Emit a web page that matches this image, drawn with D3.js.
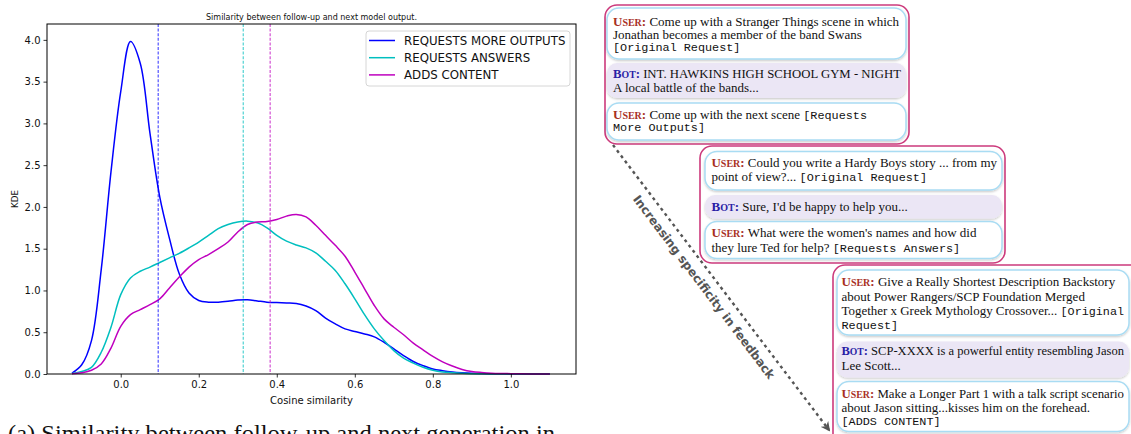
<!DOCTYPE html>
<html>
<head>
<meta charset="utf-8">
<script src="https://cdn.jsdelivr.net/npm/d3@7"></script>
<style>
  body { margin: 0; background: #fff; }
  svg { display: block; }
  text { white-space: pre; }
</style>
</head>
<body>
<div id="chart"></div>
<script>
// KDE curves
const seriesNames = ['REQUESTS MORE OUTPUTS', 'REQUESTS ANSWERS', 'ADDS CONTENT'];
const seriesColors = ['#0000ff', '#00bfbf', '#bf00bf'];
const xGrid = [-0.125, -0.1, -0.075, -0.05, -0.025, 0, 0.025, 0.05, 0.075, 0.1,
  0.125, 0.15, 0.175, 0.2, 0.225, 0.25, 0.275, 0.3, 0.325, 0.35,
  0.375, 0.4, 0.425, 0.45, 0.475, 0.5, 0.525, 0.55, 0.575, 0.6,
  0.625, 0.65, 0.675, 0.7, 0.725, 0.75, 0.775, 0.8, 0.825, 0.85,
  0.875, 0.9, 0.925, 0.95, 0.975, 1.0, 1.025, 1.05, 1.075, 1.1];
const moreOutputs = [0.01, 0.11, 0.40, 1.25, 2.42, 3.38, 3.98, 3.72, 2.88, 2.12,
  1.62, 1.2, 0.97, 0.88, 0.86, 0.86, 0.87, 0.885, 0.89, 0.875,
  0.86, 0.855, 0.85, 0.845, 0.815, 0.76, 0.67, 0.6, 0.54, 0.51,
  0.48, 0.445, 0.38, 0.3, 0.22, 0.15, 0.1, 0.06, 0.04, 0.025,
  0.015, 0.008, 0.005, 0.003, 0.002, 0.001, 0.001, 0, 0, 0];
const requestsAnswers = [0.005, 0.03, 0.08, 0.26, 0.56, 0.95, 1.15, 1.23, 1.28, 1.335,
  1.39, 1.445, 1.51, 1.58, 1.66, 1.74, 1.79, 1.82, 1.83, 1.81,
  1.75, 1.66, 1.59, 1.545, 1.51, 1.45, 1.35, 1.24, 1.08, 0.9,
  0.71, 0.54, 0.4, 0.28, 0.19, 0.13, 0.08, 0.045, 0.025, 0.015,
  0.008, 0.004, 0.002, 0.001, 0.001, 0, 0, 0, 0, 0];
const addsContent = [0.003, 0.015, 0.045, 0.12, 0.31, 0.57, 0.71, 0.77, 0.83, 0.9,
  1.03, 1.16, 1.28, 1.37, 1.43, 1.5, 1.58, 1.7, 1.79, 1.82,
  1.825, 1.85, 1.89, 1.91, 1.88, 1.78, 1.66, 1.54, 1.41, 1.22,
  1.02, 0.82, 0.66, 0.56, 0.47, 0.37, 0.29, 0.21, 0.145, 0.095,
  0.055, 0.03, 0.018, 0.01, 0.006, 0.004, 0.002, 0.001, 0.001, 0];
const seriesMeans = [0.096, 0.314, 0.383];
const xTicks = [0, 0.2, 0.4, 0.6, 0.8, 1.0];
const yTicks = [0, 0.5, 1.0, 1.5, 2.0, 2.5, 3.0, 3.5, 4.0];

// chat examples on the right
const cardTexts = [
  [
    { kind: 'user', lines: [
      [['u', 'USER:'], ['t', ' Come up with a Stranger Things scene in which']],
      [['t', 'Jonathan becomes a member of the band Swans']],
      [['m', '[Original Request]']]] },
    { kind: 'bot', lines: [
      [['b', 'BOT:'], ['t', ' INT. HAWKINS HIGH SCHOOL GYM - NIGHT']],
      [['t', 'A local battle of the bands...']]] },
    { kind: 'user', lines: [
      [['u', 'USER:'], ['t', ' Come up with the next scene '], ['m', '[Requests']],
      [['m', 'More Outputs]']]] }
  ],
  [
    { kind: 'user', lines: [
      [['u', 'USER:'], ['t', ' Could you write a Hardy Boys story ... from my']],
      [['t', 'point of view?... '], ['m', '[Original Request]']]] },
    { kind: 'bot', lines: [
      [['b', 'BOT:'], ['t', " Sure, I'd be happy to help you..."]]] },
    { kind: 'user', lines: [
      [['u', 'USER:'], ['t', " What were the women's names and how did"]],
      [['t', 'they lure Ted for help? '], ['m', '[Requests Answers]']]] }
  ],
  [
    { kind: 'user', lines: [
      [['u', 'USER:'], ['t', ' Give a Really Shortest Description Backstory']],
      [['t', 'about Power Rangers/SCP Foundation Merged']],
      [['t', 'Together x Greek Mythology Crossover... '], ['m', '[Original']],
      [['m', 'Request]']]] },
    { kind: 'bot', lines: [
      [['b', 'BOT:'], ['t', ' SCP-XXXX is a powerful entity resembling Jason']],
      [['t', 'Lee Scott...']]] },
    { kind: 'user', lines: [
      [['u', 'USER:'], ['t', ' Make a Longer Part 1 with a talk script scenario']],
      [['t', 'about Jason sitting...kisses him on the forehead.']],
      [['m', '[ADDS CONTENT]']]] }
  ]
];
const arrowLabel = 'Increasing specificity in feedback';
const captionText = '(a) Similarity between follow-up and next generation in';

// layout of the cards (outer box, bubble boxes, text baselines)
const cardBoxes = [
  { x: 605, y: 5, w: 304, h: 139, tx: 613,
    bubbles: [[607, 8, 299, 51], [607, 63, 299, 35], [607, 103, 299, 37]],
    baselines: [[26, 38.6, 51.2], [77.6, 92], [118.8, 131.4]] },
  { x: 700, y: 146, w: 305, h: 117, tx: 711.5,
    bubbles: [[705, 151.5, 297, 38.5], [705, 195, 297, 23.5], [705, 221.5, 297, 37]],
    baselines: [[166.6, 181], [210.5], [237.4, 251.8]] },
  { x: 833, y: 265, w: 310, h: 185, tx: 841.5,
    bubbles: [[837, 270, 292, 65], [837, 341.5, 292, 36], [837, 381.5, 292, 50]],
    baselines: [[286, 300.6, 315.2, 328.6], [355.4, 370], [397.6, 412.2, 425.4]] }
];

const W = 1131, H = 434;
const svg = d3.select('#chart').append('svg')
  .attr('width', W).attr('height', H)
  .style('font-family', 'DejaVu Sans, sans-serif');
svg.append('rect').attr('width', W).attr('height', H).attr('fill', '#fff');

const defs = svg.append('defs');
const shadow = defs.append('filter').attr('id', 'shadow')
  .attr('x', '-5%').attr('y', '-20%').attr('width', '110%').attr('height', '150%');
shadow.append('feDropShadow').attr('dx', 0).attr('dy', 1.2).attr('stdDeviation', 1)
  .attr('flood-color', '#000').attr('flood-opacity', 0.22);
defs.append('marker').attr('id', 'arrowhead')
  .attr('viewBox', '0 0 10 10').attr('refX', 8).attr('refY', 5)
  .attr('markerWidth', 4).attr('markerHeight', 4).attr('orient', 'auto')
  .attr('markerUnits', 'strokeWidth')
  .append('path').attr('d', 'M0,0 L10,5 L0,10 L3,5 Z').attr('fill', '#555');

// ---------- KDE plot ----------
const plot = { left: 47, right: 576, top: 24, bottom: 374 };
const x = d3.scaleLinear().domain([-0.189, 1.167]).range([plot.left, plot.right]);
const y = d3.scaleLinear().domain([0, 4.19]).range([plot.bottom, plot.top]);

const series = [moreOutputs, requestsAnswers, addsContent].map((vals, i) => ({
  name: seriesNames[i], color: seriesColors[i], mean: seriesMeans[i],
  points: xGrid.map((xv, j) => ({ x: xv, y: vals[j] }))
}));

const g = svg.append('g');

const line = d3.line()
  .x(d => x(d.x))
  .y(d => y(d.y))
  .curve(d3.curveCatmullRom.alpha(0.5));

g.selectAll('.kde')
    .data(series)
  .enter().append('path')
    .attr('class', 'kde')
    .attr('d', d => line(d.points))
    .attr('fill', 'none')
    .attr('stroke', d => d.color)
    .attr('stroke-width', 1.5);

g.selectAll('.mean')
    .data(series)
  .enter().append('line')
    .attr('class', 'mean')
    .attr('x1', d => x(d.mean)).attr('x2', d => x(d.mean))
    .attr('y1', plot.top).attr('y2', plot.bottom)
    .attr('stroke', d => d.color)
    .attr('stroke-opacity', 0.75)
    .attr('stroke-width', 1.1)
    .attr('stroke-dasharray', '3,1.6');

const xAxis = g.append('g')
  .attr('transform', 'translate(0,' + plot.bottom + ')')
  .call(d3.axisBottom(x).tickValues(xTicks).tickFormat(d3.format('.1f'))
    .tickSizeInner(3.5).tickSizeOuter(0).tickPadding(3));
const yAxis = g.append('g')
  .attr('transform', 'translate(' + plot.left + ',0)')
  .call(d3.axisLeft(y).tickValues(yTicks).tickFormat(d3.format('.1f'))
    .tickSizeInner(3.5).tickSizeOuter(0).tickPadding(3));
[xAxis, yAxis].forEach(a => {
  a.select('.domain').remove();
  a.selectAll('line').attr('stroke', '#000').attr('stroke-width', 0.8);
  a.selectAll('text').attr('fill', '#111')
    .style('font-family', 'DejaVu Sans').style('font-size', '10px');
});

g.append('rect')
  .attr('x', plot.left).attr('y', plot.top)
  .attr('width', plot.right - plot.left).attr('height', plot.bottom - plot.top)
  .attr('fill', 'none').attr('stroke', '#000').attr('stroke-width', 1);

g.append('text')
  .attr('x', (plot.left + plot.right) / 2).attr('y', 20)
  .attr('text-anchor', 'middle')
  .style('font-size', '8px').attr('fill', '#111')
  .text('Similarity between follow-up and next model output.');
g.append('text')
  .attr('x', (plot.left + plot.right) / 2).attr('y', 404)
  .attr('text-anchor', 'middle')
  .style('font-size', '10px').attr('fill', '#111')
  .text('Cosine similarity');
g.append('text')
  .attr('transform', 'translate(18,' + (plot.top + plot.bottom) / 2 + ') rotate(-90)')
  .attr('text-anchor', 'middle')
  .style('font-size', '8.7px').attr('fill', '#111')
  .text('KDE');

// legend
const legend = g.append('g').attr('transform', 'translate(366,31)');
legend.append('rect')
  .attr('width', 204).attr('height', 55).attr('rx', 3)
  .attr('fill', '#fff').attr('fill-opacity', 0.8)
  .attr('stroke', '#cccccc').attr('stroke-width', 0.8);
const item = legend.selectAll('.item')
    .data(series)
  .enter().append('g')
    .attr('class', 'item')
    .attr('transform', (d, i) => 'translate(0,' + (9.5 + i * 17.2) + ')');
item.append('line')
  .attr('x1', 3).attr('x2', 29)
  .attr('stroke', d => d.color).attr('stroke-width', 1.5);
item.append('text')
  .attr('x', 38).attr('dy', '0.36em')
  .style('font-size', '11.8px').attr('fill', '#111')
  .text(d => d.name);

// caption (cut off at the bottom, as in the source)
svg.append('text')
  .attr('x', 8).attr('y', 441)
  .attr('textLength', 547).attr('lengthAdjust', 'spacingAndGlyphs')
  .style('font-family', 'Liberation Serif, serif').style('font-size', '23px')
  .attr('fill', '#111')
  .text(captionText);

// ---------- chat examples ----------
const arrow = svg.append('g');
arrow.append('line')
  .attr('x1', 613).attr('y1', 145).attr('x2', 829).attr('y2', 430)
  .attr('stroke', '#555').attr('stroke-width', 2.4)
  .attr('stroke-dasharray', '3,3.6')
  .attr('marker-end', 'url(#arrowhead)');
arrow.append('text')
  .attr('transform', 'translate(704,287) rotate(52.96)')
  .attr('text-anchor', 'middle').attr('dy', '0.35em')
  .style('font-family', 'DejaVu Sans, sans-serif').style('font-weight', 'bold')
  .style('font-size', '12px').attr('fill', '#555')
  .text(arrowLabel);

const labelColor = { u: '#a8301f', b: '#2a1ea6' };

cardBoxes.forEach((box, ci) => {
  const card = svg.append('g');
  card.append('rect')
    .attr('x', box.x).attr('y', box.y).attr('width', box.w).attr('height', box.h)
    .attr('rx', 12)
    .attr('fill', '#fff').attr('stroke', '#cc3a7c').attr('stroke-width', 1.6);

  cardTexts[ci].forEach((bubble, bi) => {
    const b = box.bubbles[bi];
    const isUser = bubble.kind === 'user';
    card.append('rect')
      .attr('x', b[0]).attr('y', b[1]).attr('width', b[2]).attr('height', b[3])
      .attr('rx', isUser ? 12 : 10)
      .attr('fill', isUser ? '#fff' : '#ebe6f5')
      .attr('stroke', isUser ? '#a9dcf3' : 'none')
      .attr('stroke-width', 1.5)
      .attr('filter', 'url(#shadow)');

    const maxRight = b[0] + b[2] - 5;
    bubble.lines.forEach((segs, li) => {
      const t = card.append('text')
        .attr('x', box.tx).attr('y', box.baselines[bi][li])
        .style('font-family', 'Liberation Serif, serif')
        .style('font-size', '13px').attr('fill', '#111');
      segs.forEach(([k, s]) => {
        if (k === 'u' || k === 'b') {
          const col = labelColor[k];
          const word = s.slice(0, -1);
          t.append('tspan').style('font-weight', 'bold').attr('fill', col).text(word[0]);
          t.append('tspan').style('font-weight', 'bold').style('font-size', '10px')
            .attr('fill', col).text(word.slice(1).toUpperCase());
          t.append('tspan').style('font-weight', 'bold').attr('fill', col).text(':');
        } else if (k === 'm') {
          t.append('tspan').style('font-family', 'Liberation Mono, monospace')
            .style('font-size', '11.8px').text(s);
        } else {
          t.append('tspan').text(s);
        }
      });
      // keep long lines inside their bubble
      const len = t.node().getComputedTextLength();
      if (box.tx + len > maxRight) {
        t.attr('textLength', maxRight - box.tx).attr('lengthAdjust', 'spacingAndGlyphs');
      }
    });
  });
});
</script>
</body>
</html>
